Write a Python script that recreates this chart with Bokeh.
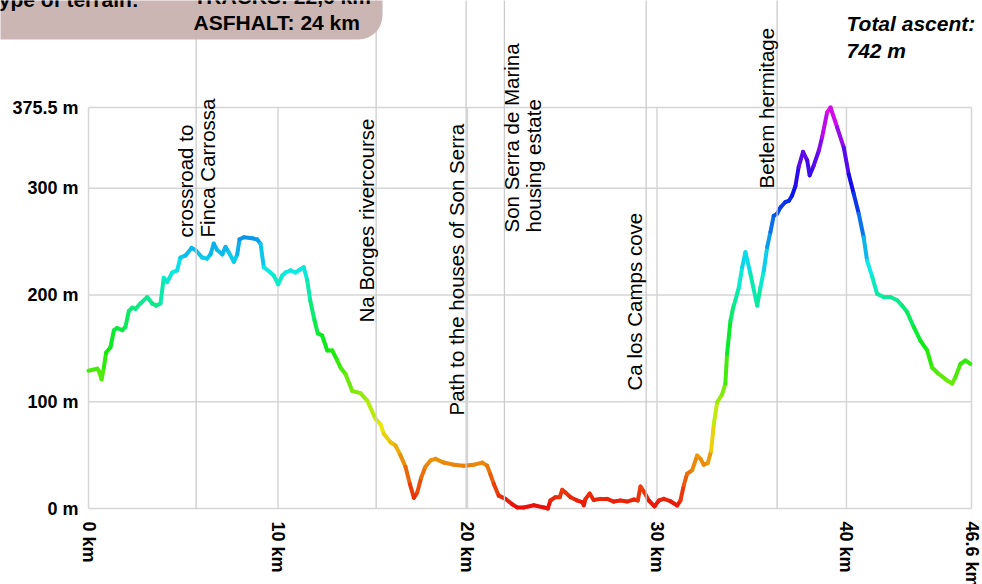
import colorsys
from math import pi

from bokeh.plotting import figure
from bokeh.models import Range1d, FixedTicker, Label, Arrow, BoxAnnotation, ColumnDataSource
from bokeh.embed import file_html
from bokeh.resources import INLINE

# ---------------- data ----------------
distance_km = [
    0.0, 0.46, 0.54, 0.69, 0.81, 0.93, 1.16, 1.34, 1.51, 1.78, 1.95, 2.13, 2.31, 2.48, 2.74,
    3.10, 3.36, 3.57, 3.80, 3.97, 4.15, 4.42, 4.68, 4.85, 5.12, 5.44, 5.65, 6.00, 6.26, 6.44,
    6.61, 6.79, 7.06, 7.23, 7.40, 7.67, 7.85, 7.97, 8.20, 8.64, 8.90, 9.08, 9.25, 9.60, 9.78,
    10.01, 10.22, 10.40, 10.66, 10.92, 11.19, 11.36, 11.54, 11.71, 11.93, 12.10, 12.33, 12.60,
    12.86, 13.12, 13.30, 13.56, 13.92, 14.35, 14.71, 15.15, 15.41, 15.58, 15.94, 16.20, 16.46,
    16.73, 16.96, 17.17, 17.35, 17.56, 17.78, 18.05, 18.31, 18.75, 19.28, 19.80, 20.33, 20.78,
    21.04, 21.21, 21.39, 21.65, 22.01, 22.36, 22.62, 22.97, 23.50, 24.03, 24.24, 24.38, 24.64,
    24.87, 25.00, 25.17, 25.44, 25.79, 26.05, 26.14, 26.23, 26.45, 26.66, 27.02, 27.37, 27.72,
    28.07, 28.43, 28.78, 28.99, 29.13, 29.34, 29.57, 29.87, 30.10, 30.36, 30.71, 31.07, 31.24,
    31.42, 31.59, 31.86, 32.12, 32.30, 32.47, 32.68, 32.86, 33.00, 33.18, 33.44, 33.61, 33.70,
    33.88, 34.02, 34.14, 34.32, 34.50, 34.67, 34.93, 35.29, 35.46, 35.64, 35.82, 35.99, 36.16,
    36.34, 36.52, 36.78, 36.96, 37.13, 37.31, 37.48, 37.71, 37.93, 38.06, 38.27, 38.54, 38.72,
    38.98, 39.16, 39.51, 39.86, 40.12, 40.38, 40.65, 40.91, 41.09, 41.36, 41.62, 41.97, 42.32,
    42.68, 42.94, 43.20, 43.55, 43.91, 44.26, 44.52, 44.87, 45.31, 45.58, 45.75, 46.02, 46.28,
    46.54,
]
elevation_m = [
    129, 131, 129, 121, 132, 146, 151, 167, 169, 167, 170, 185, 188, 187, 192,
    198, 192, 190, 192, 216, 212, 221, 223, 235, 237, 244, 242, 235, 234, 238,
    248, 242, 238, 245, 240, 231, 238, 252, 254, 253, 252, 248, 226, 221, 218,
    210, 218, 221, 223, 221, 224, 226, 214, 194, 176, 164, 162, 148,
    148, 139, 132, 126, 110, 108, 101, 84, 79, 70, 62, 59, 50,
    39, 23, 10, 15, 29, 39, 45, 46.5, 43, 41, 40, 41, 43,
    40, 32, 23, 12, 9, 4, 1, 1, 3, 1, 0, 7.5, 10.6,
    10.6, 17.5, 15, 10.6, 7.5, 6, 3, 9, 14, 8, 9, 9, 6.5,
    7.5, 6.5, 8.4, 7.5, 20.6, 15, 7.5, 2, 7.5, 9, 6.8, 2.8, 7.5,
    22, 32.5, 36, 49.6, 46.5, 41, 42.4, 54, 79, 99.5, 107, 117, 145,
    176, 188, 195, 207, 226, 240, 220, 190, 207, 223, 245, 259, 274,
    276, 282, 287, 288, 293, 302, 320, 334, 326, 312, 321, 335, 348,
    371, 375.5, 357, 338, 313, 295, 276, 254, 232, 217, 201, 198, 198,
    195, 190, 184, 170, 157, 148, 132, 126, 120, 117, 123, 135.5, 138.6,
    135.5,
]

x_ticks = [0, 10, 20, 30, 40, 46.6]
x_tick_labels = ["0 km", "10 km", "20 km", "30 km", "40 km", "46.6 km"]
y_ticks = [0, 100, 200, 300, 375.5]
y_tick_labels = ["0 m", "100 m", "200 m", "300 m", "375.5 m"]

poi_km = [5.68, 15.18, 19.93, 21.95, 29.43, 36.34]
poi_names = [
    "crossroad to\nFinca Carrossa",
    "Na Borges rivercourse",
    "Path to the houses of Son Serra",
    "Son Serra de Marina\nhousing estate",
    "Ca los Camps cove",
    "Betlem hermitage",
]

terrain_title = "Type of terrain:"
terrain_lines = ["TRACKS: 22,6 km", "ASFHALT: 24 km"]
ascent_title = "Total ascent:"
ascent_value = "742 m"

X_MAX = 46.6
Y_MAX = 375.5

# ---------------- layout (canvas pixels) ----------------
W, H = 982, 584
DATA_L, DATA_R, DATA_T, DATA_B = 88, 971, 107, 508   # where 0..46.6 km and 0..375.5 m sit
label_dx = [0, -10, -10, 18, -12, -11]            # label centre offset from the POI line, px
label_start_py = [237, 322, 415, 232, 390, 188]   # canvas y where each label text starts


def px_to_km(px):
    return (px - DATA_L) / (DATA_R - DATA_L) * X_MAX


def py_to_m(py):
    return (DATA_B - py) / (DATA_B - DATA_T) * Y_MAX


def elev_color(e):
    h = max(0.0, min(1.0, e / Y_MAX)) * 300.0 / 360.0
    r, g, b = colorsys.hsv_to_rgb(h, 0.95, 0.92)
    return "#%02x%02x%02x" % (int(r * 255), int(g * 255), int(b * 255))


FONT = "Liberation Sans"
GRID = "#d6d6d6"

p = figure(
    width=W, height=H,
    x_range=Range1d(px_to_km(0), px_to_km(W)), y_range=Range1d(py_to_m(H), py_to_m(0)),
    output_backend="svg", toolbar_location=None,
    min_border=0, min_border_left=0, min_border_right=0,
    min_border_top=0, min_border_bottom=0,
)
p.outline_line_color = None
p.background_fill_color = "white"
p.border_fill_color = "white"
p.xgrid.visible = False
p.ygrid.visible = False

# axes (drawn at the data origin)
p.xaxis.ticker = FixedTicker(ticks=x_ticks)
p.yaxis.ticker = FixedTicker(ticks=y_ticks)
p.xaxis.major_label_overrides = {t: l for t, l in zip(x_ticks, x_tick_labels)}
p.yaxis.major_label_overrides = {t: l for t, l in zip(y_ticks, y_tick_labels)}
p.xaxis.major_label_orientation = "vertical"
p.xaxis.fixed_location = 0
p.yaxis.fixed_location = 0
for ax in (p.xaxis, p.yaxis):
    ax.axis_line_color = None
    ax.major_tick_line_color = None
    ax.minor_tick_line_color = None
    ax.major_label_text_font = FONT
    ax.major_label_text_font_style = "bold"
    ax.major_label_text_color = "black"
    ax.major_label_text_font_size = "18px"
p.xaxis.major_label_standoff = 7
p.yaxis.major_label_standoff = 4

# grid lines (only over the data area)
nx, ny = len(x_ticks), len(y_ticks)
p.segment(x0=x_ticks, y0=[0] * nx, x1=x_ticks, y1=[Y_MAX] * nx,
          line_color=GRID, line_width=1.5, level="underlay")
p.segment(x0=[0] * ny, y0=y_ticks, x1=[X_MAX] * ny, y1=y_ticks,
          line_color=GRID, line_width=1.5, level="underlay")

# POI vertical lines and labels
for km, name, dx, sy in zip(poi_km, poi_names, label_dx, label_start_py):
    p.add_layout(Arrow(end=None, x_start=km, y_start=0, x_end=km, y_end=py_to_m(-10),
                       line_color="#cccccc", line_width=1.3))
    p.add_layout(Label(x=km, y=py_to_m(sy), x_offset=dx, text=name, angle=pi / 2,
                       text_align="left", text_baseline="middle",
                       text_font=FONT, text_font_size="20.5px", text_color="black",
                       text_line_height=0.95))

# elevation profile coloured by height
seg = ColumnDataSource(dict(
    x0=distance_km[:-1], y0=elevation_m[:-1],
    x1=distance_km[1:], y1=elevation_m[1:],
    color=[elev_color((a + b) / 2) for a, b in zip(elevation_m[:-1], elevation_m[1:])],
))
p.segment("x0", "y0", "x1", "y1", source=seg, line_color="color", line_width=4, line_cap="round")

# terrain box (top-left)
p.add_layout(BoxAnnotation(left=px_to_km(-60), right=px_to_km(382),
                           top=py_to_m(-60), bottom=py_to_m(39),
                           fill_color="#c9b2b0", fill_alpha=0.95, line_color=None,
                           border_radius=24))
p.add_layout(Label(x=px_to_km(-13), y=py_to_m(10), text=terrain_title,
                   text_align="left", text_baseline="bottom",
                   text_font=FONT, text_font_style="bold", text_font_size="21px",
                   text_color="black", text_line_height=1.16))
p.add_layout(Label(x=px_to_km(193), y=py_to_m(34), text="\n".join(terrain_lines),
                   text_align="left", text_baseline="bottom",
                   text_font=FONT, text_font_style="bold", text_font_size="21px",
                   text_color="black", text_line_height=1.16))

# total ascent
p.add_layout(Label(x=px_to_km(846), y=py_to_m(11), text=ascent_title + "\n" + ascent_value,
                   text_align="left", text_baseline="top",
                   text_font=FONT, text_font_style="bold italic", text_font_size="21px",
                   text_color="black", text_line_height=1.2))

open("out.html", "w").write(file_html(p, INLINE))
